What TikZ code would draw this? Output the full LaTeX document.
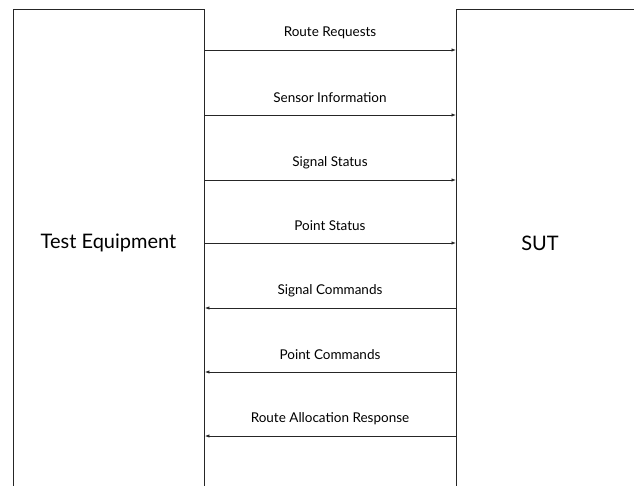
\documentclass[tikz,border=0pt]{standalone}
\usepackage{fontspec}
\setmainfont{Lato}
\usetikzlibrary{arrows.meta}
\begin{document}
\begin{tikzpicture}[x=1pt,y=1pt,
  box/.style={draw=black!85, line width=0.9pt, rectangle, inner sep=0pt, anchor=north west},
  msg/.style={draw=black!85, line width=0.8pt, -{Latex[length=4.5pt,width=3.5pt]}},
  lbl/.style={font=\fontsize{13.5}{16}\selectfont, inner sep=0pt},
  big/.style={font=\fontsize{20}{24}\selectfont, inner sep=0pt}]
\useasboundingbox (0,0) rectangle (634,485);
\node[box, minimum width=191.5pt, minimum height=560pt] (te) at (12.5,476.3) {};
\node[box, minimum width=220pt, minimum height=560pt] (sut) at (456,476.3) {};
\node[big] (tet) at (108.5,242) {Test Equipment};
\node[big] (sutt) at (540,242) {SUT};
\foreach \n/\y/\t/\d in {a/50/Route Requests/r, b/115/Sensor Information/r, c/180/Signal Status/r, d/243/Point Status/r, e/308/Signal Commands/l, f/372/Point Commands/l, g/436/Route Allocation Response/l}{
  \coordinate (L\n) at (te.east |- 0,485-\y);
  \coordinate (R\n) at (sut.west |- 0,485-\y);
  \if\d r
    \draw[msg] (L\n) -- (R\n);
  \else
    \draw[msg] (R\n) -- (L\n);
  \fi
  \node[lbl] (lab\n) at (330,485-\y+17) {\t};
}
\end{tikzpicture}
\end{document}
